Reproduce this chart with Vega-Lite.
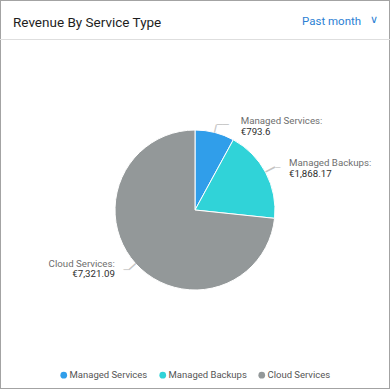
{
  "$schema": "https://vega.github.io/schema/vega-lite/v6.json",
  "width": 390,
  "height": 389,
  "padding": 0,
  "autosize": {"type": "none"},
  "background": "#ffffff",
  "title": {
    "text": "Revenue By Service Type",
    "anchor": "start",
    "frame": "group",
    "orient": "top",
    "offset": -40,
    "baseline": "alphabetic",
    "dx": 13,
    "font": "Roboto",
    "fontSize": 13.5,
    "fontWeight": 400,
    "color": "#1e1e1e"
  },
  "config": {
    "view": {"stroke": "#a3a3a3", "strokeWidth": 2},
    "locale": {
      "number": {"decimal": ".", "thousands": ",", "grouping": [3], "currency": ["€", ""]}
    }
  },
  "layer": [
    {
      "data": {"values": [{"t": "Past month"}]},
      "mark": {"type": "text", "align": "left", "baseline": "alphabetic", "font": "Roboto", "fontSize": 11.5, "color": "#2b7fd4"},
      "encoding": {"text": {"field": "t"}, "x": {"value": 302}, "y": {"value": 25}}
    },
    {
      "data": {"values": [{"t": "∨"}]},
      "mark": {"type": "text", "align": "center", "baseline": "middle", "font": "DejaVu Sans", "fontSize": 11, "color": "#2b7fd4"},
      "encoding": {"text": {"field": "t"}, "x": {"value": 374}, "y": {"value": 20}}
    },
    {
      "data": {"values": [{"t": "sep"}]},
      "mark": {"type": "rule", "color": "#dedede", "strokeWidth": 1},
      "encoding": {"y": {"value": 39.5}}
    },
    {
      "data": {
        "values": [
          {"category": "Managed Services", "label": "Managed Services:", "value": 793.6},
          {"category": "Managed Backups", "label": "Managed Backups:", "value": 1868.17},
          {"category": "Cloud Services", "label": "Cloud Services:", "value": 7321.09}
        ]
      },
      "encoding": {
        "theta": {"field": "value", "type": "quantitative", "stack": true},
        "order": {"field": "value", "type": "quantitative", "sort": "ascending"}
      },
      "layer": [
        {
          "mark": {"type": "arc", "outerRadius": 80, "stroke": "#ffffff", "strokeWidth": 1, "yOffset": 15.5},
          "encoding": {
            "color": {
              "field": "category",
              "type": "nominal",
              "scale": {
                "domain": ["Managed Services", "Managed Backups", "Cloud Services"],
                "range": ["#309eea", "#30d3d8", "#939899"]
              },
              "legend": {
                "orient": "none",
                "legendX": 59,
                "legendY": 370,
                "direction": "horizontal",
                "title": null,
                "symbolType": "circle",
                "symbolSize": 45,
                "symbolStrokeWidth": 0,
                "labelFont": "Roboto",
                "labelFontSize": 9.5,
                "labelColor": "#555555",
                "labelOffset": 1,
                "columnPadding": 10
              }
            }
          }
        },
        {
          "mark": {"type": "text", "radius": 84, "align": "center", "baseline": "middle", "angle": -75.7, "font": "DejaVu Sans", "fontSize": 13, "color": "#c4c4c4", "yOffset": 15.5},
          "encoding": {"text": {"condition": {"test": "datum.category === 'Managed Services'", "value": "─"}, "value": ""}}
        },
        {
          "mark": {"type": "text", "radius": 88, "align": "left", "baseline": "middle", "font": "DejaVu Sans", "fontSize": 10, "color": "#c4c4c4", "yOffset": 15.5},
          "encoding": {"text": {"condition": {"test": "datum.category === 'Managed Services'", "value": "──"}, "value": ""}}
        },
        {
          "mark": {"type": "text", "radius": 88, "align": "left", "baseline": "alphabetic", "dx": 24, "dy": -1, "font": "Roboto", "fontSize": 9.7, "color": "#6e6e6e", "yOffset": 15.5},
          "encoding": {"text": {"condition": {"test": "datum.category === 'Managed Services'", "field": "label"}, "value": ""}}
        },
        {
          "mark": {"type": "text", "radius": 88, "align": "left", "baseline": "alphabetic", "dx": 24, "dy": 10, "font": "Roboto", "fontSize": 9.7, "color": "#2e2e2e", "yOffset": 15.5},
          "encoding": {"text": {"condition": {"test": "datum.category === 'Managed Services'", "field": "value", "type": "quantitative", "format": "$,.2~f"}, "value": ""}}
        },
        {
          "mark": {"type": "text", "radius": 85.5, "align": "center", "baseline": "middle", "angle": -27.7, "font": "DejaVu Sans", "fontSize": 17, "color": "#c4c4c4", "yOffset": 15.5},
          "encoding": {"text": {"condition": {"test": "datum.category === 'Managed Backups'", "value": "─"}, "value": ""}}
        },
        {
          "mark": {"type": "text", "radius": 91, "align": "left", "baseline": "middle", "font": "DejaVu Sans", "fontSize": 8, "color": "#c4c4c4", "yOffset": 15.5},
          "encoding": {"text": {"condition": {"test": "datum.category === 'Managed Backups'", "value": "─"}, "value": ""}}
        },
        {
          "mark": {"type": "text", "radius": 91, "align": "left", "baseline": "alphabetic", "dx": 13.5, "dy": -1.7, "font": "Roboto", "fontSize": 9.7, "color": "#6e6e6e", "yOffset": 15.5},
          "encoding": {"text": {"condition": {"test": "datum.category === 'Managed Backups'", "field": "label"}, "value": ""}}
        },
        {
          "mark": {"type": "text", "radius": 91, "align": "left", "baseline": "alphabetic", "dx": 13.5, "dy": 8.8, "font": "Roboto", "fontSize": 9.7, "color": "#2e2e2e", "yOffset": 15.5},
          "encoding": {"text": {"condition": {"test": "datum.category === 'Managed Backups'", "field": "value", "type": "quantitative", "format": "$,.2~f"}, "value": ""}}
        },
        {
          "mark": {"type": "text", "radius": 84.5, "align": "center", "baseline": "middle", "angle": 138, "font": "DejaVu Sans", "fontSize": 15, "color": "#c4c4c4", "yOffset": 15.5},
          "encoding": {"text": {"condition": {"test": "datum.category === 'Cloud Services'", "value": "─"}, "value": ""}}
        },
        {
          "mark": {"type": "text", "radius": 89, "align": "right", "baseline": "middle", "font": "DejaVu Sans", "fontSize": 9, "color": "#c4c4c4", "yOffset": 15.5},
          "encoding": {"text": {"condition": {"test": "datum.category === 'Cloud Services'", "value": "─"}, "value": ""}}
        },
        {
          "mark": {"type": "text", "radius": 89, "align": "right", "baseline": "alphabetic", "dx": -14, "dy": -2.5, "font": "Roboto", "fontSize": 9.7, "color": "#6e6e6e", "yOffset": 15.5},
          "encoding": {"text": {"condition": {"test": "datum.category === 'Cloud Services'", "field": "label"}, "value": ""}}
        },
        {
          "mark": {"type": "text", "radius": 89, "align": "right", "baseline": "alphabetic", "dx": -14, "dy": 7.8, "font": "Roboto", "fontSize": 9.7, "color": "#2e2e2e", "yOffset": 15.5},
          "encoding": {"text": {"condition": {"test": "datum.category === 'Cloud Services'", "field": "value", "type": "quantitative", "format": "$,.2~f"}, "value": ""}}
        }
      ]
    }
  ]
}
